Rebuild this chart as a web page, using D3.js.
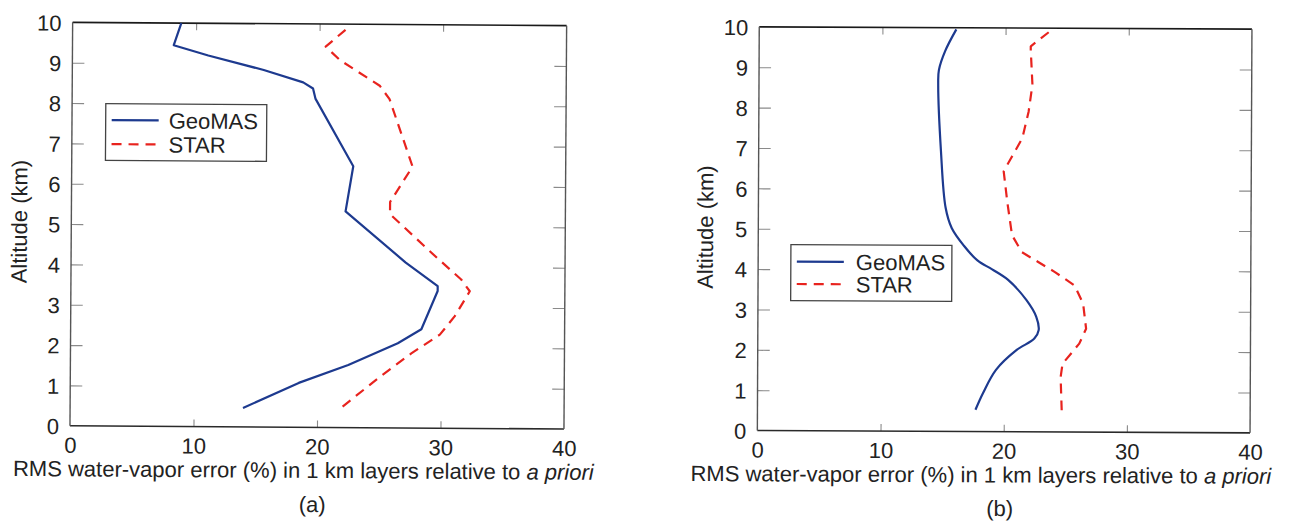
<!DOCTYPE html>
<html>
<head>
<meta charset="utf-8">
<script src="https://cdn.jsdelivr.net/npm/d3@7"></script>
<style>
  body { margin: 0; background: #fff; }
  svg { display: block; }
  text { font-family: "Liberation Sans", Arial, sans-serif; fill: #222; }
</style>
</head>
<body>
<svg id="chart" width="1292" height="522"></svg>
<script>
// ---------------- data ----------------
const altTicks = [0, 1, 2, 3, 4, 5, 6, 7, 8, 9, 10];
const errTicks = [0, 10, 20, 30, 40];
const seriesNames = ["GeoMAS", "STAR"];
const panelLabels = ["(a)", "(b)"];
const xTitleMain = "RMS water-vapor error (%) in 1 km layers relative to ";
const xTitleItalic = "a priori";
const yTitle = "Altitude (km)";

// panel (a)
const geomasA_err = [8.8, 8.2, 11.0, 15.5, 18.7, 19.5, 19.7, 22.8, 22.2, 27.1, 29.7, 29.7, 28.4, 26.5, 22.5, 18.5, 14.0];
const geomasA_alt = [10.0, 9.45, 9.2, 8.85, 8.55, 8.4, 8.15, 6.48, 5.36, 4.1, 3.52, 3.4, 2.45, 2.1, 1.55, 1.1, 0.47];
const starA_err = [22.1, 20.5, 21.7, 24.9, 25.7, 27.6, 25.8, 25.8, 29.6, 31.6, 32.3, 31.1, 29.9, 27.6, 25.1, 21.9];
const starA_alt = [9.86, 9.44, 9.1, 8.48, 8.15, 6.48, 5.6, 5.3, 4.23, 3.69, 3.4, 2.78, 2.32, 1.85, 1.27, 0.48];

// panel (b)
const geomasB_err = [16.0, 15.1, 14.6, 14.55, 14.8, 15.2, 15.7, 16.7, 17.8, 19.0, 20.3, 21.8, 22.6, 22.8, 22.45, 21.0, 19.35, 18.3, 17.7];
const geomasB_alt = [9.96, 9.42, 8.95, 8.6, 6.94, 5.54, 5.04, 4.6, 4.24, 4.02, 3.76, 3.26, 2.85, 2.52, 2.31, 2.02, 1.53, 0.95, 0.54];
const starB_err = [23.5, 22.05, 22.05, 22.2, 21.9, 21.4, 20.5, 19.9, 20.2, 20.6, 21.4, 24.1, 25.7, 26.4, 26.65, 26.1, 24.75, 24.6, 24.7];
const starB_alt = [9.9, 9.55, 9.46, 8.6, 7.93, 7.27, 6.78, 6.45, 5.7, 4.87, 4.45, 3.96, 3.63, 3.18, 2.56, 2.19, 1.69, 1.36, 0.54];

// ---------------- layout / style ----------------
const COLORS = { GeoMAS: "#1d3a8f", STAR: "#e8231e" };
const svg = d3.select("#chart");

const panels = [
  {
    label: panelLabels[0],
    frame: { x0: 71.3, x1: 565.3, y0: 24, y1: 427.4 }, rot: 0.38,
    series: [
      { name: seriesNames[0], err: geomasA_err, alt: geomasA_alt, curve: d3.curveLinear },
      { name: seriesNames[1], err: starA_err, alt: starA_alt, curve: d3.curveLinear }
    ],
    legend: { x0: 105, x1: 266, y0: 105, y1: 161.7, lx0: 111, lx1: 158, tx: 168, rows: [121.5, 145.5] },
    yTitle: { x: 27, y: 223.5 },
    xTitle: { x: 305, y: 478 },
    plabel: { x: 314, y: 512 }
  },
  {
    label: panelLabels[1],
    frame: { x0: 758.3, x1: 1251, y0: 28, y1: 431.7 }, rot: 0.27,
    series: [
      { name: seriesNames[0], err: geomasB_err, alt: geomasB_alt, curve: d3.curveCatmullRom.alpha(0.5) },
      { name: seriesNames[1], err: starB_err, alt: starB_alt, curve: d3.curveLinear }
    ],
    legend: { x0: 791, x1: 952, y0: 245.7, y1: 301.7, lx0: 797, lx1: 844, tx: 856, rows: [262.7, 285] },
    yTitle: { x: 713, y: 228.5 },
    xTitle: { x: 982, y: 482.5 },
    plabel: { x: 1001, y: 516 }
  }
];

panels.forEach(p => {
  const f = p.frame;
  const cx = (f.x0 + f.x1) / 2, cy = (f.y0 + f.y1) / 2;
  const g = svg.append("g").attr("transform", `rotate(${p.rot},${cx},${cy})`);

  const x = d3.scaleLinear().domain([0, 40]).range([f.x0, f.x1]);
  const y = d3.scaleLinear().domain([0, 10]).range([f.y1, f.y0]);

  // inner ticks via axes
  const tickStyle = sel => {
    sel.select(".domain").remove();
    sel.selectAll(".tick line").attr("stroke", "#8a8a8a").attr("stroke-width", 1.1);
  };
  // bottom axis: labels outside, ticks inward
  const bottom = g.append("g").attr("transform", `translate(0,${f.y1})`)
    .call(d3.axisBottom(x).tickValues(errTicks).tickSize(0).tickPadding(0).tickFormat(d3.format("d")));
  bottom.select(".domain").remove();
  bottom.selectAll(".tick text").attr("y", 27).attr("dy", 0)
    .style("font-size", "22px").attr("fill", "#222").attr("font-family", "Liberation Sans, Arial, sans-serif");
  g.append("g").attr("transform", `translate(0,${f.y1})`)
    .call(d3.axisTop(x).tickValues(errTicks.slice(1, -1)).tickSize(7).tickFormat(""))
    .call(tickStyle);
  g.append("g").attr("transform", `translate(0,${f.y0})`)
    .call(d3.axisBottom(x).tickValues(errTicks.slice(1, -1)).tickSize(7).tickFormat(""))
    .call(tickStyle);

  // left axis labels
  const left = g.append("g").attr("transform", `translate(${f.x0},0)`)
    .call(d3.axisLeft(y).tickValues(altTicks).tickSize(0).tickPadding(11).tickFormat(d3.format("d")));
  left.select(".domain").remove();
  left.selectAll(".tick text").attr("dy", "0.36em")
    .style("font-size", "22px").attr("fill", "#222").attr("font-family", "Liberation Sans, Arial, sans-serif");
  g.append("g").attr("transform", `translate(${f.x0},0)`)
    .call(d3.axisRight(y).tickValues(altTicks.slice(1, -1)).tickSize(12).tickFormat(""))
    .call(tickStyle);
  g.append("g").attr("transform", `translate(${f.x1},0)`)
    .call(d3.axisLeft(y).tickValues(altTicks.slice(1, -1)).tickSize(12).tickFormat(""))
    .call(tickStyle);

  // frame
  g.append("line").attr("x1", f.x0).attr("x2", f.x1).attr("y1", f.y0).attr("y2", f.y0)
    .attr("stroke", "#1a1a1a").attr("stroke-width", 1.6);
  g.append("line").attr("x1", f.x0).attr("x2", f.x1).attr("y1", f.y1).attr("y2", f.y1)
    .attr("stroke", "#2a2a2a").attr("stroke-width", 1.6);
  g.append("line").attr("x1", f.x0).attr("x2", f.x0).attr("y1", f.y0).attr("y2", f.y1)
    .attr("stroke", "#555").attr("stroke-width", 1.4);
  g.append("line").attr("x1", f.x1).attr("x2", f.x1).attr("y1", f.y0).attr("y2", f.y1)
    .attr("stroke", "#555").attr("stroke-width", 1.4);

  // series
  p.series.forEach(s => {
    const pts = s.err.map((e, i) => [e, s.alt[i]]);
    const line = d3.line().x(d => x(d[0])).y(d => y(d[1])).curve(s.curve);
    g.append("path").datum(pts).attr("d", line)
      .attr("fill", "none").attr("stroke", COLORS[s.name]).attr("stroke-width", 2.2)
      .attr("stroke-linejoin", "round")
      .attr("stroke-dasharray", s.name === "STAR" ? "10,7" : null);
  });

  // legend
  const L = p.legend;
  g.append("rect").attr("x", L.x0).attr("y", L.y0).attr("width", L.x1 - L.x0).attr("height", L.y1 - L.y0)
    .attr("fill", "#fff").attr("stroke", "#444").attr("stroke-width", 1.3);
  seriesNames.forEach((n, i) => {
    g.append("line").attr("x1", L.lx0).attr("x2", L.lx1).attr("y1", L.rows[i]).attr("y2", L.rows[i])
      .attr("stroke", COLORS[n]).attr("stroke-width", 2.2)
      .attr("stroke-dasharray", n === "STAR" ? "10,7" : null);
    g.append("text").attr("x", L.tx).attr("y", L.rows[i] + 8).style("font-size", "22px").text(n);
  });

  // axis titles
  g.append("text").attr("transform", `translate(${p.yTitle.x},${p.yTitle.y}) rotate(-90)`)
    .attr("text-anchor", "middle").style("font-size", "22px").text(yTitle);
  const xt = g.append("text").attr("x", p.xTitle.x).attr("y", p.xTitle.y)
    .attr("text-anchor", "middle").style("font-size", "22px");
  xt.append("tspan").text(xTitleMain);
  xt.append("tspan").style("font-style", "italic").text(xTitleItalic);

  g.append("text").attr("x", p.plabel.x).attr("y", p.plabel.y)
    .attr("text-anchor", "middle").style("font-size", "22px").text(p.label);
});
</script>
</body>
</html>
